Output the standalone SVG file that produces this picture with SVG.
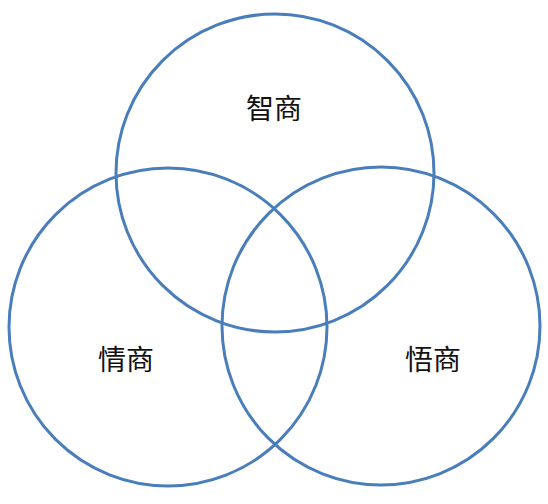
<svg xmlns="http://www.w3.org/2000/svg" width="548" height="504" viewBox="0 0 548 504">
<style>
.c{fill:none;stroke:#4a7ebb;stroke-width:3}
.t{font-family:"Noto Sans CJK SC",sans-serif;font-size:28px;fill:#111;text-anchor:middle;dominant-baseline:central}
</style>
<rect width="548" height="504" fill="#fff"/>
<g id="zhishang"><circle class="c" cx="275" cy="173" r="159"/><text class="t" x="274" y="107">智商</text></g>
<g id="qingshang"><circle class="c" cx="168" cy="327" r="159"/><text class="t" x="126" y="358">情商</text></g>
<g id="wushang"><circle class="c" cx="381" cy="326" r="159"/><text class="t" x="433" y="358">悟商</text></g>
<g id="connectors"></g>
</svg>
